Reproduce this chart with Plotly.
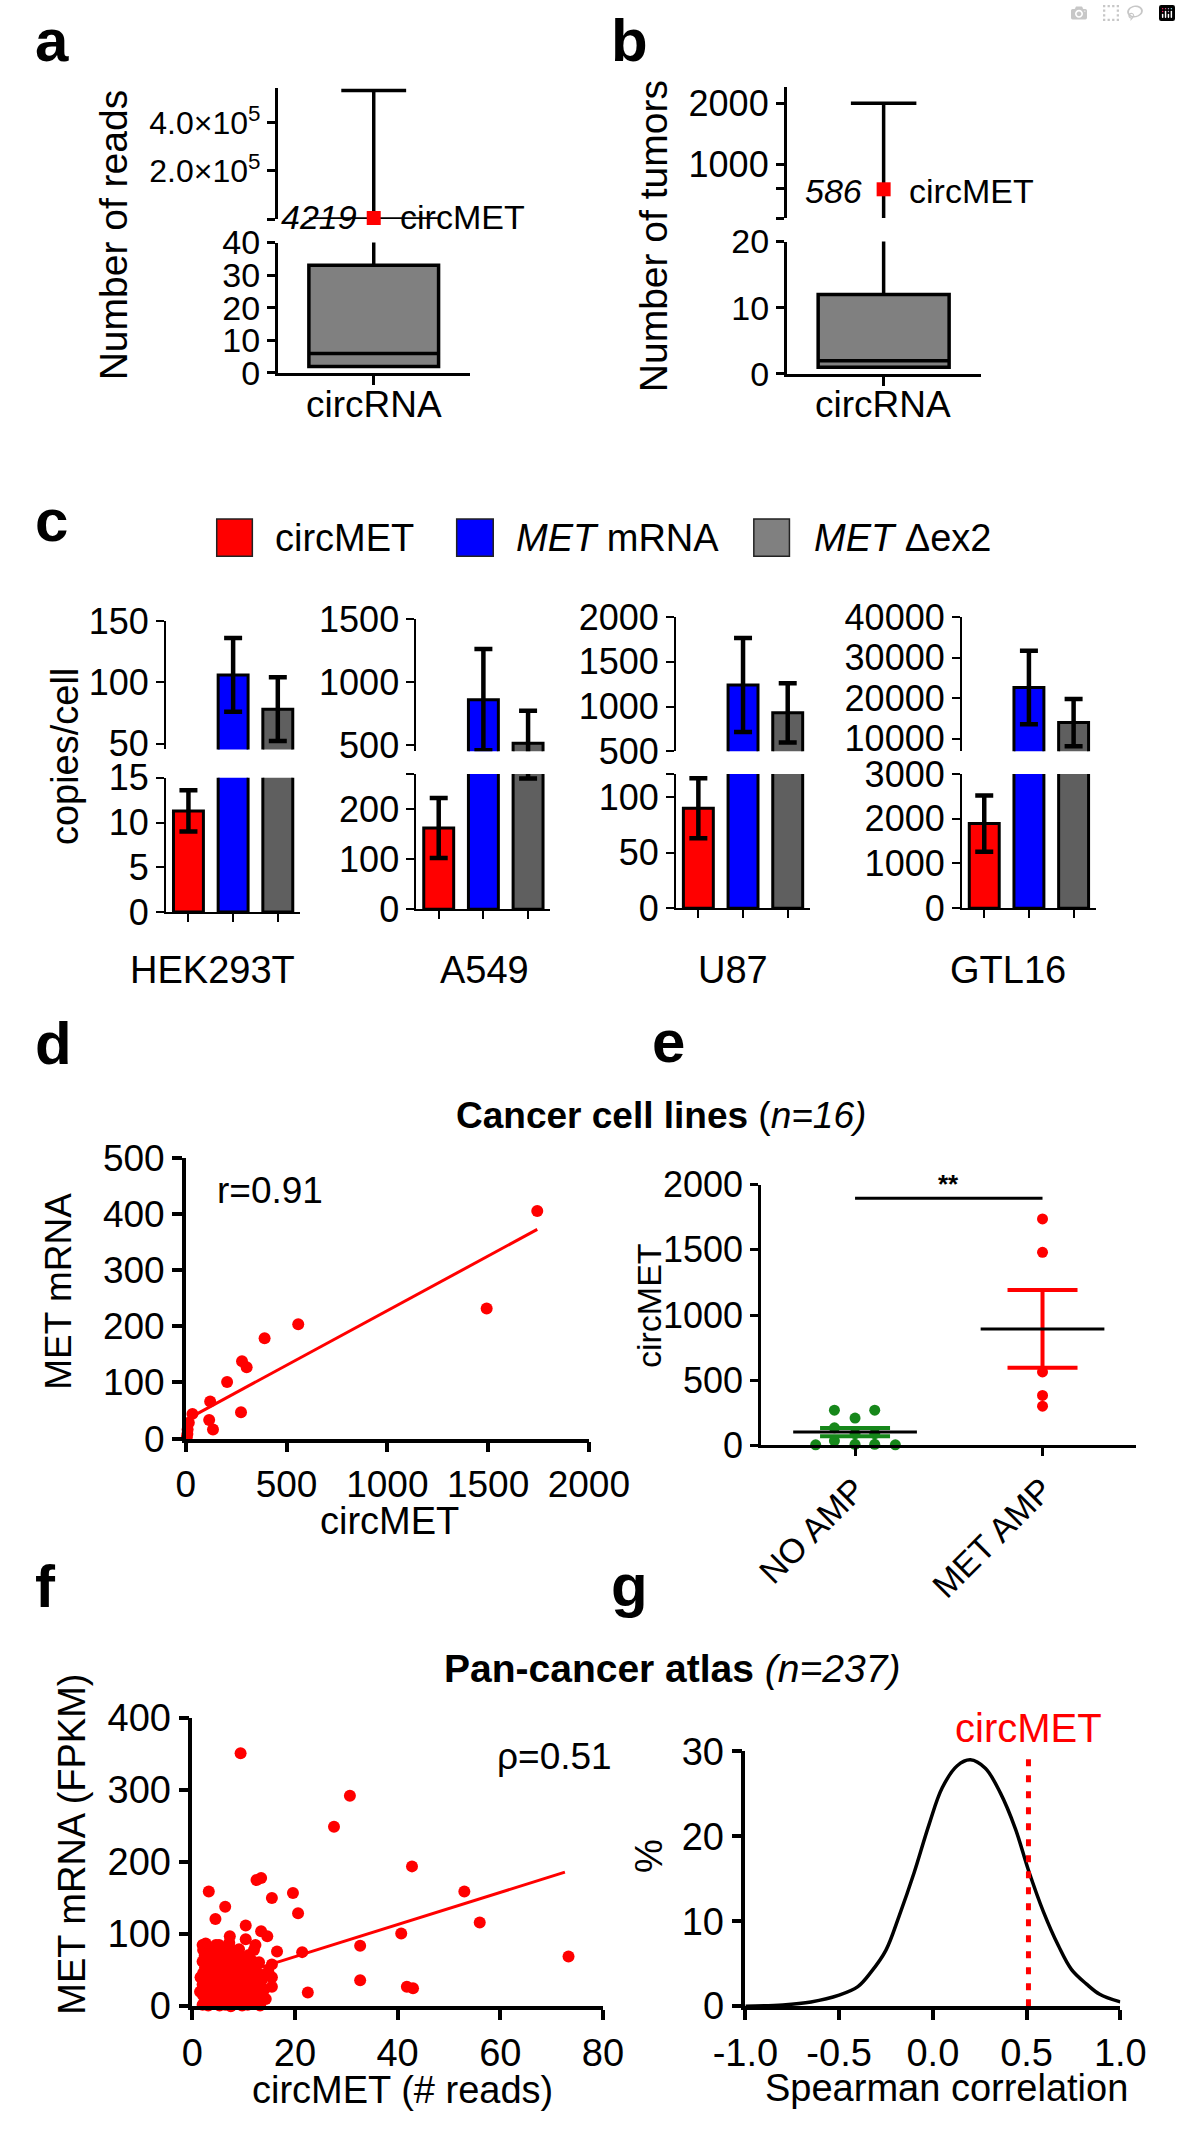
import numpy as np
import plotly.graph_objects as go

W, H = 1181, 2135
FONT = "Liberation Sans, Arial, Helvetica, sans-serif"
RED = "#ff0000"
BLUE = "#0000ff"
BAR_GRAY = "#5f5f5f"
LEG_GRAY = "#808080"
GREEN = "#16871a"

# ---------------- data ----------------
# a : reads per circRNA (box summary) + circMET
reads_box = dict(lowerfence=2, q1=2, median=6, q3=33, upperfence=535000)
reads_circmet = 4219
reads_ticks_hi = [0, 200000, 400000]
reads_ticktext_hi = ["", "2.0×10<sup>5</sup>", "4.0×10<sup>5</sup>"]
reads_ticks_lo = [0, 10, 20, 30, 40]

# b : tumors per circRNA
tumors_box = dict(lowerfence=1, q1=1, median=2, q3=12, upperfence=2000)
tumors_circmet = 586
tumors_ticks_hi = [113, 600, 1000, 2000]
tumors_ticktext_hi = ["", "", "1000", "2000"]
tumors_ticks_lo = [0, 10, 20]

# c : copies per cell
cell_lines = ["HEK293T", "A549", "U87", "GTL16"]
series_names = ["circMET", "<i>MET</i> mRNA", "<i>MET</i> \u0394ex2"]
circ_copies = [11.3, 162, 90, 1890]
circ_err = [2.3, 60, 27, 630]
mrna_copies = [106, 862, 1241, 22600]
mrna_err = [30, 400, 525, 9050]
dex2_copies = [78, 518, 930, 13950]
dex2_err = [26, 257, 330, 5810]
c_ticks_hi = [[50, 100, 150], [500, 1000, 1500], [500, 1000, 1500, 2000],
              [10000, 20000, 30000, 40000]]
c_ticks_lo = [[0, 5, 10, 15], [0, 100, 200], [0, 50, 100], [0, 1000, 2000, 3000]]

# d : cancer cell lines, circMET vs MET mRNA
d_circmet = [1744, 1493, 558, 391, 279, 302, 205, 121, 33, 274, 116, 135, 9, 5, 15, 8]
d_met_mrna = [406, 232, 204, 179, 138, 127, 101, 66, 44, 47, 33, 16, 16, 2, 28, 8]
d_fit_x = [19, 1744]
d_fit_y = [37, 373]

# e : circMET by MET amplification
e_groups = ["NO AMP", "MET AMP"]
e_no_amp = [5, 35, 8, 8, 5, 270, 270, 210, 135, 90, 90]
e_met_amp = [1737, 1481, 564, 383, 301]
sig_bar_y = 1895

# f : pan-cancer, circMET reads vs MET FPKM
f_points = [
    (9.4, 351), (30.7, 292), (27.6, 249), (42.8, 194), (12.5, 175), (13.4, 178),
    (3.2, 159), (15.5, 150), (19.6, 157), (6.4, 138), (20.6, 129), (53.0, 159),
    (56.0, 116), (40.7, 101), (4.5, 121), (10.4, 112), (32.7, 84), (73.3, 69),
    (21.4, 75), (16.5, 76), (32.7, 36), (41.8, 27), (43.0, 25), (22.5, 19),
    (13.4, 104), (14.6, 97), (7.3, 97), (2.0, 85), (5.2, 85), (10.4, 93),
    (12.3, 85), (15.5, 58), (15.5, 40), (15.5, 27), (12.3, 3),
    (2.0, 2), (3.1, 1), (4.2, 3), (5.3, 1), (6.4, 2), (7.5, 0), (8.6, 3), (9.7, 1),
    (10.8, 2), (11.9, 4), (13.2, 1),
    (2.6, 8), (3.7, 9), (5.0, 7), (6.5, 9), (8.0, 7), (9.4, 8), (11.0, 9), (12.5, 7),
    (2.1, 15), (3.2, 14), (4.3, 16), (5.6, 15), (7.0, 13), (8.4, 16), (9.9, 14),
    (11.4, 15), (13.1, 16),
    (2.5, 23), (3.9, 21), (5.1, 22), (6.2, 24), (7.6, 21), (9.1, 23), (10.6, 22),
    (12.1, 21), (14.0, 23),
    (2.0, 30), (3.0, 31), (4.5, 29), (5.9, 31), (7.1, 30), (8.2, 29), (9.6, 31),
    (11.1, 30), (12.6, 29),
    (2.6, 38), (3.5, 39), (5.0, 37), (6.6, 38), (8.0, 39), (9.1, 37), (10.5, 38),
    (12.0, 39), (13.6, 37),
    (2.1, 46), (3.1, 47), (4.1, 45), (5.5, 46), (7.0, 47), (8.5, 45), (10.0, 46),
    (11.2, 47), (13.0, 45),
    (2.5, 54), (3.9, 53), (5.0, 55), (6.1, 54), (7.6, 52), (9.0, 55), (10.4, 53),
    (12.1, 54),
    (2.0, 62), (3.1, 63), (4.6, 61), (5.9, 62), (7.2, 64), (8.5, 61), (10.1, 62),
    (11.6, 63), (13.0, 61),
    (2.4, 70), (3.6, 71), (5.0, 69), (6.6, 70), (8.1, 72), (9.5, 69), (11.0, 71),
    (2.1, 78), (3.2, 79), (4.3, 77), (6.0, 80), (7.6, 78), (9.1, 79), (12.0, 78),
    (2.6, 87), (4.6, 85), (7.2, 88), (1.6, 40), (1.5, 20), (14.3, 10), (14.8, 48),
]
f_reads = [p[0] for p in f_points]
f_fpkm = [p[1] for p in f_points]
f_fit_x = [2, 72.6]
f_fit_y = [28.5, 186]

# g : distribution of Spearman correlations
g_corr = [-1.0, -0.8, -0.65, -0.5, -0.4, -0.33, -0.25, -0.18, -0.1, -0.02, 0.05,
          0.13, 0.2, 0.28, 0.36, 0.44, 0.51, 0.59, 0.67, 0.74, 0.82, 0.89, 1.0]
g_pct = [0.0, 0.15, 0.5, 1.3, 2.3, 4.0, 6.6, 10.6, 15.7, 21.4, 25.7, 28.3, 29.0,
         28.0, 25.1, 20.9, 16.0, 11.1, 7.1, 4.3, 2.6, 1.4, 0.5]
g_circmet_rho = 0.51

# ---------------- helpers ----------------
fig = go.Figure()
n_sub = [0]


def subplot(xdom, ydom, xaxis, yaxis):
    # xdom = (left, right) px, ydom = (top, bottom) px
    n_sub[0] += 1
    k = n_sub[0]
    s = "" if k == 1 else str(k)
    xaxis = dict(xaxis, domain=[xdom[0] / W, xdom[1] / W], anchor="y" + s)
    yaxis = dict(yaxis, domain=[1 - ydom[1] / H, 1 - ydom[0] / H], anchor="x" + s)
    fig.update_layout({"xaxis" + s: xaxis, "yaxis" + s: yaxis})
    return "x" + s, "y" + s


def axis(lw, size, ticklen=8, **kw):
    d = dict(showline=True, linecolor="black", linewidth=lw, ticks="outside",
             ticklen=ticklen, tickwidth=lw, tickcolor="black", showgrid=False,
             zeroline=False, fixedrange=True, tickformat="d",
             tickfont=dict(family=FONT, size=size, color="black"))
    d.update(kw)
    return d


def hidden(**kw):
    return dict(visible=False, showgrid=False, zeroline=False, fixedrange=True, **kw)


def label(text, x, y, size, xanchor="center", angle=0, color="black"):
    fig.add_annotation(text=text, x=x / W, y=1 - y / H, xref="paper", yref="paper",
                       xanchor=xanchor, yanchor="middle", textangle=angle,
                       showarrow=False, font=dict(family=FONT, size=size, color=color))


def box_trace(st, xa, ya, width):
    return go.Box(x=[0], q1=[st["q1"]], median=[st["median"]], q3=[st["q3"]],
                  lowerfence=[st["lowerfence"]], upperfence=[st["upperfence"]],
                  width=width, whiskerwidth=0.5, fillcolor="#808080",
                  line=dict(color="black", width=3.5), boxpoints=False,
                  xaxis=xa, yaxis=ya, showlegend=False, hoverinfo="skip")


def square(xa, ya, val):
    return go.Scatter(x=[0], y=[val], mode="markers", cliponaxis=False,
                      marker=dict(symbol="square", size=14, color=RED),
                      xaxis=xa, yaxis=ya, showlegend=False, hoverinfo="skip")


# ---------------- a ----------------
xa1, ya1 = subplot((261, 466), (68, 202), hidden(range=[-1, 1]),
                   axis(2.5, 32, range=[0, 547000], tickvals=reads_ticks_hi,
                        ticktext=reads_ticktext_hi))
xa2, ya2 = subplot((261, 466), (226, 359),
                   axis(2.5, 32, range=[-1, 1], tickvals=[0], ticktext=[""], ticklen=9),
                   axis(2.5, 34, range=[0, 40], tickvals=reads_ticks_lo))
fig.add_trace(box_trace(reads_box, xa1, ya1, 1.35))
fig.add_trace(box_trace(reads_box, xa2, ya2, 1.35))
fig.add_trace(square(xa1, ya1, reads_circmet))
label("<i>%d</i>" % reads_circmet, 348, 200, 34, xanchor="right")
label("circMET", 389, 200, 34, xanchor="left")
label("circRNA", 364, 391, 37)
label("Number of reads", 86, 219, 39, angle=-90)

# ---------------- b ----------------
xb1, yb1 = subplot((804, 1011), (67, 201), hidden(range=[-1, 1]),
                   axis(2.5, 36, range=[113, 2274], tickvals=tumors_ticks_hi,
                        ticktext=tumors_ticktext_hi))
xb2, yb2 = subplot((804, 1011), (225, 360),
                   axis(2.5, 32, range=[-1, 1], tickvals=[0], ticktext=[""], ticklen=9),
                   axis(2.5, 34, range=[0, 20], tickvals=tumors_ticks_lo))
fig.add_trace(box_trace(tumors_box, xb1, yb1, 1.35))
fig.add_trace(box_trace(tumors_box, xb2, yb2, 1.35))
fig.add_trace(square(xb1, yb1, tumors_circmet))
label("<i>%d</i>" % tumors_circmet, 887, 173, 34, xanchor="right")
label("circMET", 932, 173, 34, xanchor="left")
label("circRNA", 907, 391, 37)
label("Number of tumors", 662, 220, 39, angle=-90)

# ---------------- c ----------------
c_geom = [
    dict(ax=142, up=(612, 743), lo=(772, 909), ur=[45.2, 150], lr=[0, 15], lab=192),
    dict(ax=409, up=(610, 745), lo=(768, 906), ur=[453, 1500], lr=[0, 270], lab=482),
    dict(ax=686, up=(608, 745), lo=(768, 905), ur=[500, 2000], lr=[0, 121], lab=747),
    dict(ax=991, up=(608, 745), lo=(768, 905), ur=[6855, 40000], lr=[0, 3000], lab=1040),
]
bar_colors = [RED, BLUE, BAR_GRAY]
for i, g in enumerate(c_geom):
    vals = [circ_copies[i], mrna_copies[i], dex2_copies[i]]
    errs = [circ_err[i], mrna_err[i], dex2_err[i]]
    lo_ticks = list(c_ticks_lo[i])
    lo_text = [str(t) for t in lo_ticks]
    if g["lr"][1] > lo_ticks[-1]:
        lo_ticks.append(g["lr"][1])
        lo_text.append("")
    xu, yu = subplot((g["ax"], g["ax"] + 143), g["up"], hidden(range=[-0.5, 2.5]),
                     axis(2, 36, range=g["ur"], tickvals=c_ticks_hi[i],
                          ticktext=[str(t) for t in c_ticks_hi[i]]))
    xl, yl = subplot((g["ax"], g["ax"] + 143), g["lo"],
                     axis(2, 30, range=[-0.5, 2.5], tickvals=[0, 1, 2],
                          ticktext=["", "", ""], ticklen=8),
                     axis(2, 36, range=g["lr"], tickvals=lo_ticks, ticktext=lo_text))
    for xa, ya in ((xu, yu), (xl, yl)):
        fig.add_trace(go.Bar(
            x=[0, 1, 2], y=vals, width=0.67, xaxis=xa, yaxis=ya,
            marker=dict(color=bar_colors, line=dict(color="black", width=3)),
            error_y=dict(type="data", array=errs, color="black", thickness=4.5, width=9),
            showlegend=False, hoverinfo="skip"))
    label(cell_lines[i], g["lab"], 968, 38)

# legend for c
leg_x = [(196, 234, 256, RED), (452, 491, 513, BLUE), (769, 807, 831, LEG_GRAY)]
for (x0, x1, tx, col), name in zip(leg_x, series_names):
    fig.add_shape(type="rect", xref="paper", yref="paper", x0=x0 / W, x1=x1 / W,
                  y0=1 - 546 / H, y1=1 - 508 / H, fillcolor=col,
                  line=dict(color="#222222", width=1.5))
    label(name, tx, 527, 38, xanchor="left")
label("copies/cell", 34, 750, 38, angle=-90)

# ---------------- d ----------------
xd, yd = subplot((163, 593), (1160, 1446),
                 axis(3.5, 37, ticklen=10, range=[0, 2000],
                      tickvals=[0, 500, 1000, 1500, 2000]),
                 axis(3.5, 37, ticklen=10, range=[0, 500],
                      tickvals=[0, 100, 200, 300, 400, 500]))
fig.add_trace(go.Scatter(x=d_fit_x, y=d_fit_y, mode="lines", line=dict(color=RED, width=3),
                         xaxis=xd, yaxis=yd, showlegend=False, hoverinfo="skip"))
fig.add_trace(go.Scatter(x=d_circmet, y=d_met_mrna, mode="markers", cliponaxis=False,
                         marker=dict(color=RED, size=12), xaxis=xd, yaxis=yd,
                         showlegend=False, hoverinfo="skip"))
label("r=0.91", 253, 1193, 37)
label("MET mRNA", 27, 1296, 37, angle=-90)
label("circMET", 380, 1530, 38)
label("<b>Cancer cell lines</b> (<i>n=16)</i>", 670, 1116, 37)

# ---------------- e ----------------
xe, ye = subplot((777, 1177), (1187, 1453),
                 axis(3, 34, range=[-0.5, 1.5], tickvals=[0, 1], ticktext=e_groups,
                      tickangle=-45),
                 axis(3, 36, range=[0, 2000], tickvals=[0, 500, 1000, 1500, 2000]))
no_amp_jitter = [-0.21, -0.11, 0.0, 0.105, 0.215, -0.11, 0.105, 0.0, -0.11, 0.0, 0.105]
for ci, (vals, col, jit) in enumerate(((e_no_amp, GREEN, no_amp_jitter),
                                      (e_met_amp, RED, [0] * len(e_met_amp)))):
    fig.add_trace(go.Scatter(x=[ci + j for j in jit], y=vals, mode="markers",
                             cliponaxis=False, marker=dict(color=col, size=11),
                             xaxis=xe, yaxis=ye, showlegend=False, hoverinfo="skip"))
    m = float(np.mean(vals))
    sem = float(np.std(vals, ddof=1) / np.sqrt(len(vals)))
    fig.add_trace(go.Scatter(x=[ci], y=[m], mode="markers", marker=dict(size=1, opacity=0),
                             error_y=dict(type="data", array=[sem], color=col,
                                          thickness=4, width=35),
                             xaxis=xe, yaxis=ye, showlegend=False, hoverinfo="skip"))
    fig.add_trace(go.Scatter(x=[ci - 0.33, ci + 0.33], y=[m, m], mode="lines",
                             line=dict(color="black", width=3), xaxis=xe, yaxis=ye,
                             showlegend=False, hoverinfo="skip"))
fig.add_shape(type="line", xref=xe, yref=ye, x0=0, x1=1, y0=sig_bar_y, y1=sig_bar_y,
              line=dict(color="black", width=3))
fig.add_annotation(text="<b>**</b>", x=0.5, y=sig_bar_y, xref=xe, yref=ye, yshift=14,
                   showarrow=False, font=dict(family=FONT, size=26, color="black"))
label("circMET", 657, 1310, 34, angle=-90)

# ---------------- f ----------------
xf, yf = subplot((170, 608), (1731, 2025),
                 axis(3.5, 38, ticklen=10, range=[0, 80], tickvals=[0, 20, 40, 60, 80]),
                 axis(3.5, 38, ticklen=10, range=[0, 400],
                      tickvals=[0, 100, 200, 300, 400]))
fig.add_trace(go.Scatter(x=f_reads, y=f_fpkm, mode="markers", cliponaxis=False,
                         marker=dict(color=RED, size=12), xaxis=xf, yaxis=yf,
                         showlegend=False, hoverinfo="skip"))
fig.add_trace(go.Scatter(x=f_fit_x, y=f_fit_y, mode="lines", line=dict(color=RED, width=3),
                         xaxis=xf, yaxis=yf, showlegend=False, hoverinfo="skip"))
label("\u03c1=0.51", 556, 1770, 37)
label("MET mRNA (FPKM)", 42, 1860, 38, angle=-90)
label("circMET (# reads)", 394, 2111, 38)
label("<b>Pan-cancer atlas</b> <i>(n=237)</i>", 682, 1681, 39)

# ---------------- g ----------------
xg, yg = subplot((760, 1160), (1765, 2025),
                 axis(3.5, 38, ticklen=10, range=[-1, 1], tickvals=[-1, -0.5, 0, 0.5, 1],
                      ticktext=["-1.0", "-0.5", "0.0", "0.5", "1.0"]),
                 axis(3.5, 38, ticklen=10, range=[0, 30], tickvals=[0, 10, 20, 30]))
fig.add_trace(go.Scatter(x=g_corr, y=g_pct, mode="lines", line_shape="spline",
                         line=dict(color="black", width=3.5), xaxis=xg, yaxis=yg,
                         showlegend=False, hoverinfo="skip"))
fig.add_trace(go.Scatter(x=[g_circmet_rho, g_circmet_rho], y=[0, 30], mode="lines",
                         line=dict(color=RED, width=5, dash="7px,9px"), xaxis=xg, yaxis=yg,
                         showlegend=False, hoverinfo="skip"))
label("circMET", 1062, 1741, 40, color=RED)
label("%", 657, 1872, 38, angle=-90)
label("Spearman correlation", 975, 2108, 38)

# ---------------- panel letters ----------------
for t, x, y in (("a", 0, 20), ("b", 614, 20), ("c", 0, 510), ("d", 0, 1043),
                ("e", 658, 1041), ("f", 0, 1597), ("g", 614, 1596)):
    label("<b>%s</b>" % t, x, y, 60, xanchor="left")

fig.update_layout(width=W, height=H, margin=dict(l=0, r=0, t=0, b=0),
                  paper_bgcolor="white", plot_bgcolor="white", showlegend=False,
                  barmode="overlay", font=dict(family=FONT, color="black"))

fig.write_html("out.html", post_script="document.body.style.margin='0';")
